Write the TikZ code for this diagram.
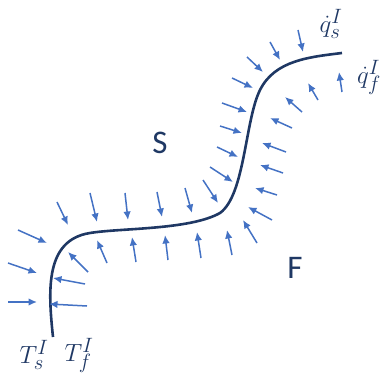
\documentclass[tikz,border=0pt]{standalone}
\usepackage{fontspec}
\setsansfont{Carlito}
\usepackage{tikz}
\usetikzlibrary{arrows.meta}
\definecolor{navy}{HTML}{1F3864}
\definecolor{fluxblue}{HTML}{4472C4}

\begin{document}
\begin{tikzpicture}[x=1pt,y=-1pt,
        flux/.style={fluxblue,line width=1.5pt,-{Latex[length=8.5pt,width=7.5pt]}},
        region/.style={navy,font=\sffamily\fontsize{33}{36}\selectfont},
        sym/.style={navy,font=\fontsize{28}{32}\selectfont}]
        \useasboundingbox (0,0) rectangle (385,379);
        % interface
        \draw[navy,line width=2.6pt] (53,337) .. controls (48,290) and (45,240) .. (90,233)
            .. controls (120,228) and (190,230) .. (220,213)
            .. controls (245,195) and (245,120) .. (260,90)
            .. controls (275,60) and (310,57) .. (342,53);
        % flux from the solid side
        \draw[flux] (8,302) -- (37,302);
        \draw[flux] (8,263) -- (37,273);
        \draw[flux] (18,230) -- (47,243);
        \draw[flux] (57,202) -- (68,225);
        \draw[flux] (90,193) -- (97,222);
        \draw[flux] (125,193) -- (128,220);
        \draw[flux] (157,192) -- (162,217);
        \draw[flux] (185,188) -- (192,213);
        \draw[flux] (203,180) -- (218,203);
        \draw[flux] (210,167) -- (233,182);
        \draw[flux] (217,147) -- (238,157);
        \draw[flux] (220,126) -- (242,133);
        \draw[flux] (222,103) -- (247,112);
        \draw[flux] (232,78) -- (253,88);
        \draw[flux] (247,57) -- (263,72);
        \draw[flux] (270,42) -- (280,60);
        \draw[flux] (298,30) -- (303,52);
        % flux from the fluid side
        \draw[flux] (87,306) -- (49,304);
        \draw[flux] (85,284) -- (53,278);
        \draw[flux] (88,272) -- (68,252);
        \draw[flux] (107,263) -- (97,240);
        \draw[flux] (136,262) -- (132,237);
        \draw[flux] (168,260) -- (165,235);
        \draw[flux] (201,258) -- (197,232);
        \draw[flux] (232,255) -- (227,230);
        \draw[flux] (257,243) -- (243,220);
        \draw[flux] (272,220) -- (248,207);
        \draw[flux] (277,195) -- (255,188);
        \draw[flux] (283,173) -- (260,165);
        \draw[flux] (286,152) -- (262,143);
        \draw[flux] (292,128) -- (270,118);
        \draw[flux] (302,112) -- (285,97);
        \draw[flux] (318,100) -- (308,83);
        \draw[flux] (342,92) -- (339,72);
        % labels
        \node[region] (solid) at (160,143) {S};
        \node[region] (fluid) at (295,268) {F};
        \node[sym] (Ts) at (34,355) {$T_s^I$};
        \node[sym] (Tf) at (79,355) {$T_f^I$};
        \node[sym] (qs) at (331,24) {$\dot{q}_s^I$};
        \node[sym] (qf) at (369,77) {$\dot{q}_f^I$};
    \end{tikzpicture}
\end{document}
